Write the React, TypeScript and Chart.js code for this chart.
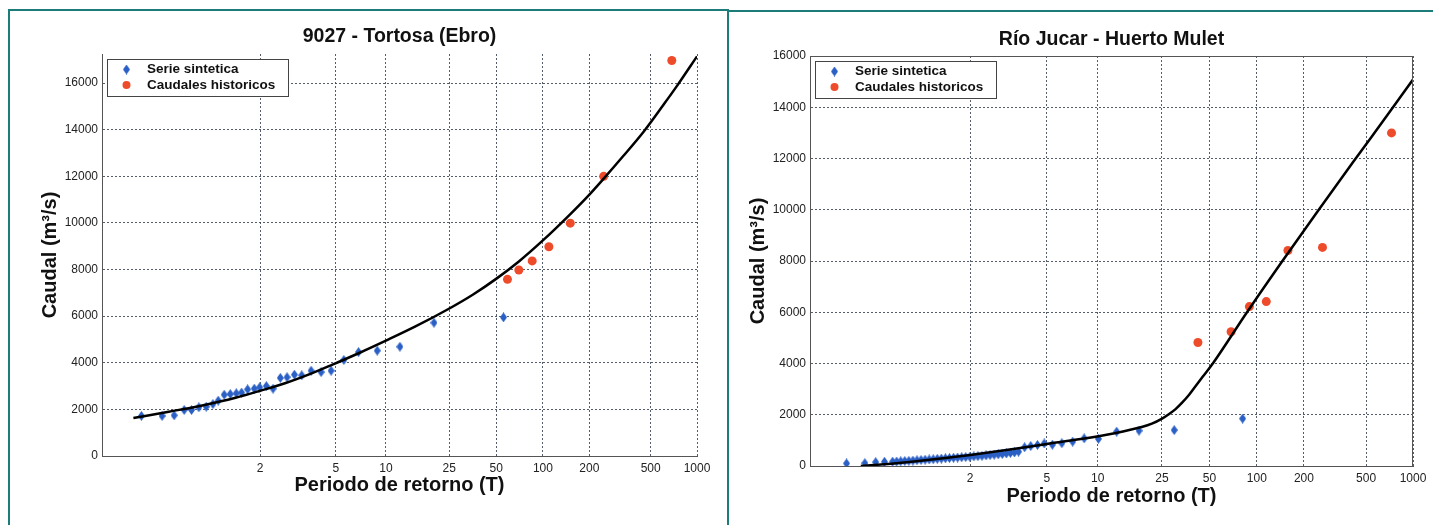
import { useEffect, useRef } from "react";
import { Chart, registerables } from "chart.js";

Chart.register(...registerables);

// ---- Axis definitions (return period shown on a Gumbel reduced-variate axis) ----
const returnPeriods = [2, 5, 10, 25, 50, 100, 200, 500, 1000];
const returnPeriodLabels = ["2", "5", "10", "25", "50", "100", "200", "500", "1000"];
const caudalTicks = [0, 2000, 4000, 6000, 8000, 10000, 12000, 14000, 16000];
const reducedVariateMin = -2;

// ---- Panel 1: 9027 - Tortosa (Ebro) ----  (x = Gumbel reduced variate, y = m3/s)
const tortosaSyntheticU = [-1.41, -1.10, -0.92, -0.77, -0.66, -0.55, -0.44, -0.34, -0.26, -0.17, -0.08, 0.01, 0.09, 0.18, 0.28, 0.36, 0.46, 0.56, 0.67, 0.77, 0.88, 0.99, 1.13, 1.28, 1.43, 1.62, 1.84, 2.12, 2.46, 2.97, 4.01];
const tortosaSyntheticQ = [1720, 1720, 1745, 1975, 1975, 2090, 2115, 2230, 2375, 2630, 2660, 2690, 2720, 2860, 2890, 2950, 3000, 2890, 3350, 3380, 3490, 3460, 3660, 3600, 3660, 4120, 4460, 4520, 4690, 5720, 5950];
const tortosaHistoricU = [4.07, 4.24, 4.44, 4.69, 5.01, 5.51, 6.53];
const tortosaHistoricQ = [7580, 7980, 8370, 8980, 9990, 12000, 16970];
const tortosaFitU = [-1.53, -1.0, -0.5, 0.0, 0.37, 0.75, 1.1, 1.45, 1.85, 2.25, 2.7, 3.2, 3.55, 3.9, 4.25, 4.6, 5.0, 5.3, 5.51, 5.8, 6.12, 6.4, 6.6, 6.907];
const tortosaFitQ = [1630, 1900, 2170, 2500, 2800, 3130, 3500, 3920, 4420, 4950, 5570, 6330, 6920, 7600, 8370, 9250, 10350, 11230, 11900, 12860, 13960, 15050, 15850, 17150];

// ---- Panel 2: Río Jucar - Huerto Mulet ----
const jucarSyntheticU = [-1.46, -1.19, -1.03, -0.90, -0.78, -0.72, -0.66, -0.60, -0.54, -0.48, -0.42, -0.36, -0.30, -0.24, -0.18, -0.12, -0.06, 0.00, 0.06, 0.12, 0.18, 0.24, 0.30, 0.36, 0.42, 0.48, 0.54, 0.60, 0.66, 0.72, 0.78, 0.84, 0.90, 0.96, 1.02, 1.08, 1.17, 1.26, 1.36, 1.46, 1.58, 1.72, 1.88, 2.05, 2.26, 2.53, 2.86, 3.38, 4.39];
const jucarSyntheticQ = [100, 110, 150, 165, 170, 175, 185, 195, 200, 210, 225, 235, 245, 255, 265, 280, 290, 300, 310, 320, 330, 340, 350, 360, 375, 385, 395, 410, 425, 440, 455, 470, 490, 510, 530, 560, 730, 780, 820, 880, 830, 890, 950, 1080, 1060, 1340, 1380, 1400, 1850];
const jucarHistoricU = [3.73, 4.22, 4.49, 4.74, 5.06, 5.57, 6.59];
const jucarHistoricQ = [4820, 5240, 6220, 6415, 8410, 8530, 13000];
const jucarFitU = [-1.25, -0.8, -0.5, 0.0, 0.37, 0.9, 1.5, 2.0, 2.5, 2.9, 3.05, 3.2, 3.3, 3.4, 3.5, 3.6, 3.7, 3.8, 3.95, 4.45, 4.96, 5.51, 6.02, 6.58, 6.907];
const jucarFitQ = [0, 90, 165, 310, 430, 620, 860, 1050, 1280, 1520, 1650, 1850, 2020, 2220, 2480, 2780, 3130, 3480, 4000, 5980, 7930, 9980, 11850, 13880, 15080];

const BLUE = "#2a5fc5";
const ORANGE = "#ee4b2b";
const GRID = "rgba(55,65,80,0.85)";
const AXIS = "#555";
const TEAL = "#1c7c79";
const FONT = "'Liberation Sans', Arial, sans-serif";

const gumbel = (T: number) => -Math.log(-Math.log(1 - 1 / T));
const zip = (xs: number[], ys: number[]) => xs.map((x, i) => ({ x, y: ys[i] }));

function makeDiamond(color: string) {
  const c = document.createElement("canvas");
  c.width = 7;
  c.height = 10;
  const g = c.getContext("2d")!;
  g.fillStyle = color;
  g.beginPath();
  g.moveTo(3.5, 0);
  g.lineTo(7, 5);
  g.lineTo(3.5, 10);
  g.lineTo(0, 5);
  g.closePath();
  g.fill();
  return c;
}

type PanelProps = {
  title: string;
  titleY: number;
  synthU: number[];
  synthQ: number[];
  histU: number[];
  histQ: number[];
  fitU: number[];
  fitQ: number[];
  yMax: number;
  boxed: boolean;
  width: number;
  height: number;
  padTop: number;
  padRight: number;
  yAxisW: number;
  xAxisH: number;
  yTitlePad: number;
  xTitlePad: number;
};

function Panel(p: PanelProps) {
  const ref = useRef<HTMLCanvasElement | null>(null);
  useEffect(() => {
    if (!ref.current) return;
    const diamond = makeDiamond(BLUE);

    const titlePlugin = {
      id: "panelTitle",
      afterDraw(chart: any) {
        const { ctx, chartArea } = chart;
        ctx.save();
        ctx.font = `bold 19.5px ${FONT}`;
        ctx.fillStyle = "#111";
        ctx.textAlign = "center";
        ctx.textBaseline = "middle";
        ctx.fillText(p.title, (chartArea.left + chartArea.right) / 2, p.titleY);
        ctx.restore();
      },
    };

    const framePlugin = {
      id: "frame",
      afterDatasetsDraw(chart: any) {
        if (!p.boxed) return;
        const { ctx, chartArea } = chart;
        ctx.save();
        ctx.strokeStyle = AXIS;
        ctx.lineWidth = 1;
        ctx.strokeRect(chartArea.left + 0.5, chartArea.top + 0.5, chartArea.right - chartArea.left - 1, chartArea.bottom - chartArea.top);
        ctx.restore();
      },
    };

    const legendPlugin = {
      id: "boxLegend",
      afterDraw(chart: any) {
        const { ctx, chartArea } = chart;
        const x0 = chartArea.left + 5;
        const y0 = chartArea.top + 5;
        const w = 181;
        const h = 37;
        ctx.save();
        ctx.fillStyle = "#fff";
        ctx.fillRect(x0, y0, w, h);
        ctx.strokeStyle = "#444";
        ctx.lineWidth = 1;
        ctx.strokeRect(x0 + 0.5, y0 + 0.5, w, h);
        const ds = chart.data.datasets;
        ctx.font = `bold 13.5px ${FONT}`;
        ctx.fillStyle = "#111";
        ctx.textBaseline = "middle";
        ctx.textAlign = "left";
        const rows = [y0 + 10.5, y0 + 26];
        ctx.drawImage(diamond, x0 + 16, rows[0] - 5);
        ctx.fillText(ds[0].label, x0 + 40, rows[0]);
        ctx.beginPath();
        ctx.fillStyle = ORANGE;
        ctx.arc(x0 + 19.5, rows[1], 4, 0, Math.PI * 2);
        ctx.fill();
        ctx.fillStyle = "#111";
        ctx.fillText(ds[1].label, x0 + 40, rows[1]);
        ctx.restore();
      },
    };

    const tickFont = { family: FONT, size: 12 };
    const titleFont = { family: FONT, size: 20, weight: "bold" as const };

    const chart = new Chart(ref.current, {
      type: "scatter",
      data: {
        datasets: [
          {
            label: "Serie sintetica",
            data: zip(p.synthU, p.synthQ),
            pointStyle: diamond as any,
            pointRadius: 4,
            backgroundColor: BLUE,
            borderWidth: 0,
            order: 2,
          },
          {
            label: "Caudales historicos",
            data: zip(p.histU, p.histQ),
            pointStyle: "circle",
            pointRadius: 4.5,
            backgroundColor: ORANGE,
            borderColor: ORANGE,
            borderWidth: 0,
            order: 1,
          },
          {
            label: "Ajuste",
            data: zip(p.fitU, p.fitQ),
            showLine: true,
            pointRadius: 0,
            borderColor: "#000",
            borderWidth: 2.5,
            cubicInterpolationMode: "monotone",
            fill: false,
            order: 0,
          } as any,
        ],
      },
      options: {
        responsive: false,
        animation: false,
        devicePixelRatio: 1,
        layout: { padding: { top: p.padTop, right: p.padRight, left: 0, bottom: 0 } },
        plugins: {
          legend: { display: false },
          tooltip: { enabled: false },
          title: { display: false },
        },
        scales: {
          x: {
            type: "linear",
            min: reducedVariateMin,
            max: gumbel(1000),
            afterBuildTicks: (s: any) => {
              s.ticks = returnPeriods.map((T) => ({ value: gumbel(T) }));
            },
            afterFit: (s: any) => {
              s.height = p.xAxisH;
            },
            ticks: {
              autoSkip: false,
              maxRotation: 0,
              padding: 5,
              font: tickFont,
              color: "#222",
              callback: (_v: any, i: number) => returnPeriodLabels[i],
            },
            grid: { color: GRID, drawTicks: false, lineWidth: 1 },
            border: { display: true, color: AXIS, width: 1, dash: [2, 2] },
            title: {
              display: true,
              text: "Periodo de retorno (T)",
              font: titleFont,
              color: "#111",
              padding: { top: 0, bottom: p.xTitlePad },
            },
          },
          y: {
            type: "linear",
            min: 0,
            max: p.yMax,
            afterBuildTicks: (s: any) => {
              s.ticks = caudalTicks.map((v) => ({ value: v }));
            },
            afterFit: (s: any) => {
              s.width = p.yAxisW;
            },
            ticks: {
              padding: 4,
              font: tickFont,
              color: "#222",
              callback: (v: any) => String(v),
            },
            grid: { color: GRID, drawTicks: false, lineWidth: 1 },
            border: { display: true, color: AXIS, width: 1, dash: [2, 2] },
            title: {
              display: true,
              text: "Caudal (m³/s)",
              font: titleFont,
              color: "#111",
              padding: { top: p.yTitlePad, bottom: 0 },
            },
          },
        },
      },
      plugins: [framePlugin, legendPlugin, titlePlugin],
    } as any);
    return () => chart.destroy();
  }, []);
  return (
    <canvas
      ref={ref}
      width={p.width}
      height={p.height}
      style={{ width: p.width, height: p.height, display: "block" }}
    />
  );
}

export default function App() {
  return (
    <div style={{ position: "absolute", left: 0, top: 0, width: 1433, height: 525, overflow: "hidden", background: "#fff" }}>
      <div style={{ position: "absolute", left: 8, top: 9, width: 721, height: 560, boxSizing: "border-box", border: `2px solid ${TEAL}` }} />
      <div style={{ position: "absolute", left: 727, top: 10, width: 740, height: 560, boxSizing: "border-box", border: `2px solid ${TEAL}` }} />
      <div style={{ position: "absolute", left: 11, top: 12 }}>
        <Panel
          title="9027 - Tortosa (Ebro)"
          titleY={25}
          synthU={tortosaSyntheticU}
          synthQ={tortosaSyntheticQ}
          histU={tortosaHistoricU}
          histQ={tortosaHistoricQ}
          fitU={tortosaFitU}
          fitQ={tortosaFitQ}
          yMax={17250}
          boxed={false}
          width={714}
          height={512}
          padTop={42}
          padRight={28}
          yAxisW={91}
          xAxisH={68}
          yTitlePad={27}
          xTitlePad={27}
        />
      </div>
      <div style={{ position: "absolute", left: 729, top: 12 }}>
        <Panel
          title="Río Jucar - Huerto Mulet"
          titleY={28}
          synthU={jucarSyntheticU}
          synthQ={jucarSyntheticQ}
          histU={jucarHistoricU}
          histQ={jucarHistoricQ}
          fitU={jucarFitU}
          fitQ={jucarFitQ}
          yMax={16000}
          boxed={true}
          width={704}
          height={512}
          padTop={44}
          padRight={20}
          yAxisW={81}
          xAxisH={58}
          yTitlePad={17}
          xTitlePad={16}
        />
      </div>
    </div>
  );
}
